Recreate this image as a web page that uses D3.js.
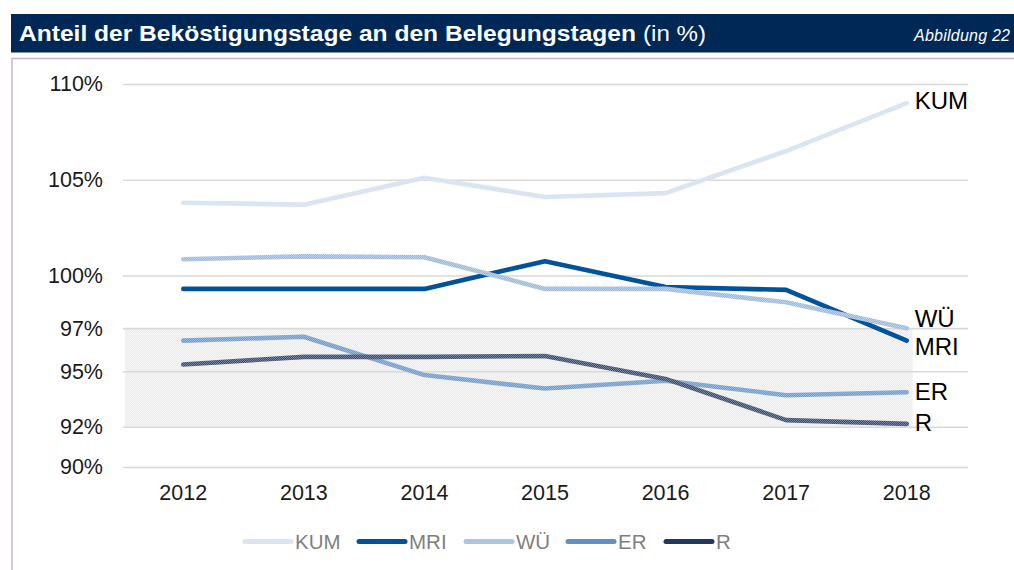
<!DOCTYPE html>
<html>
<head>
<meta charset="utf-8">
<script src="https://cdn.jsdelivr.net/npm/d3@7"></script>
<style>
  body { margin: 0; background: #fff; }
  svg { display: block; font-family: "Liberation Sans", Arial, sans-serif; }
</style>
</head>
<body>
<div id="chart"></div>
<script>
// data
const years = ['2012', '2013', '2014', '2015', '2016', '2017', '2018'];
const seriesNames = ['KUM', 'MRI', 'WÜ', 'ER', 'R'];
const kum = [103.8, 103.7, 105.1, 104.1, 104.3, 106.5, 109.0];
const mri = [99.3, 99.3, 99.3, 100.75, 99.4, 99.25, 96.6];
const wue = [100.85, 101.0, 100.95, 99.3, 99.3, 98.6, 97.25];
const er = [96.6, 96.8, 94.8, 94.1, 94.5, 93.75, 93.9];
const r = [95.35, 95.75, 95.75, 95.8, 94.6, 92.45, 92.25];
const yTicks = [90, 92.1, 95, 97.25, 100, 105, 110];
const yTickLabels = ['90%', '92%', '95%', '97%', '100%', '105%', '110%'];
const bandRange = [92.1, 97.25];

const seriesValues = [kum, mri, wue, er, r];

const width = 1014, height = 570;
const margin = { left: 123, right: 47, top: 84, bottom: 103 };

const svg = d3.select('#chart').append('svg')
  .attr('width', width)
  .attr('height', height);

const defs = svg.append('defs');

// little checker textures, the original lines look dithered
function checker(id, c1, c2) {
  const p = defs.append('pattern')
    .attr('id', id)
    .attr('patternUnits', 'userSpaceOnUse')
    .attr('width', 2).attr('height', 2);
  p.append('rect').attr('width', 2).attr('height', 2).attr('fill', c1);
  p.append('rect').attr('width', 1).attr('height', 1).attr('fill', c2);
  p.append('rect').attr('x', 1).attr('y', 1).attr('width', 1).attr('height', 1).attr('fill', c2);
}
checker('texWue', '#98b9de', '#bcd2ea');
checker('texEr', '#6f9ecf', '#96b8de');
checker('texR', '#3a4b70', '#7885a0');
checker('texBand', '#ececec', '#f5f5f5');

const lineStroke = {
  'KUM': '#dae5f1',
  'MRI': '#00539a',
  'WÜ': 'url(#texWue)',
  'ER': 'url(#texEr)',
  'R': 'url(#texR)'
};
const legendStroke = {
  'KUM': '#dae5f1',
  'MRI': '#00539a',
  'WÜ': 'url(#texWue)',
  'ER': '#5f91c8',
  'R': '#1f3763'
};
// small vertical nudges for end labels so they dont overlap
const labelNudge = { 'KUM': 6, 'MRI': 14, 'WÜ': -1, 'ER': 8, 'R': 7 };

// header bar
svg.append('rect')
  .attr('x', 11).attr('y', 14)
  .attr('width', width).attr('height', 38.5)
  .attr('fill', '#002856');

svg.append('text')
  .attr('x', 19).attr('y', 41)
  .attr('fill', '#fff')
  .attr('font-size', 22)
  .attr('font-weight', 'bold')
  .attr('textLength', 617)
  .attr('lengthAdjust', 'spacingAndGlyphs')
  .text('Anteil der Beköstigungstage an den Belegungstagen');

svg.append('text')
  .attr('x', 643).attr('y', 41)
  .attr('fill', '#fff')
  .attr('font-size', 22)
  .attr('textLength', 63)
  .attr('lengthAdjust', 'spacingAndGlyphs')
  .text('(in %)');

// in the original this one runs into the right edge, keep it just inside
svg.append('text')
  .attr('x', 914).attr('y', 41)
  .attr('fill', '#fff')
  .attr('font-size', 16)
  .attr('font-style', 'italic')
  .attr('textLength', 96)
  .attr('lengthAdjust', 'spacing')
  .text('Abbildung 22');

// frame lines
svg.append('path')
  .attr('d', `M12,${height} L12,58.5 L${width},58.5`)
  .attr('fill', 'none')
  .attr('stroke', '#c8b3c8')
  .attr('stroke-width', 1.5);

const x = d3.scaleBand()
  .domain(years)
  .range([margin.left, width - margin.right])
  .padding(0);

const y = d3.scaleLinear()
  .domain([90, 110])
  .range([height - margin.bottom, margin.top]);

const xc = d => x(d) + x.bandwidth() / 2;

// shaded band
svg.append('rect')
  .attr('x', margin.left + 2)
  .attr('y', y(bandRange[1]))
  .attr('width', xc(years[years.length - 1]) + 6 - margin.left - 2)
  .attr('height', y(bandRange[0]) - y(bandRange[1]))
  .attr('fill', 'url(#texBand)');

// y axis, gridlines + labels
const yAxis = svg.append('g')
  .attr('transform', `translate(${margin.left},0)`)
  .call(d3.axisLeft(y)
    .tickValues(yTicks)
    .tickSize(-(width - margin.left - margin.right + 1))
    .tickPadding(20)
    .tickFormat((d, i) => yTickLabels[i]));
yAxis.select('.domain').remove();
yAxis.selectAll('line').attr('stroke', '#d9d9d9').attr('stroke-width', 1.6);
yAxis.selectAll('text')
  .attr('font-size', 21.5)
  .attr('fill', '#1a1a1a')
  .attr('font-family', '"Liberation Sans", Arial, sans-serif');

// x axis labels
const xAxis = svg.append('g')
  .attr('transform', `translate(0,${y(90)})`)
  .call(d3.axisBottom(x).tickSize(0).tickPadding(18));
xAxis.select('.domain').remove();
xAxis.selectAll('text')
  .attr('font-size', 21.5)
  .attr('fill', '#1a1a1a')
  .attr('font-family', '"Liberation Sans", Arial, sans-serif');

// lines
const line = d3.line()
  .x((d, i) => xc(years[i]))
  .y(d => y(d));

seriesNames.forEach((name, k) => {
  svg.append('path')
    .datum(seriesValues[k])
    .attr('d', line)
    .attr('fill', 'none')
    .attr('stroke', lineStroke[name])
    .attr('stroke-width', 4.6)
    .attr('stroke-linecap', 'round')
    .attr('stroke-linejoin', 'round');
});

// end labels
seriesNames.forEach((name, k) => {
  const vals = seriesValues[k];
  svg.append('text')
    .attr('x', xc(years[years.length - 1]) + 8)
    .attr('y', y(vals[vals.length - 1]) + labelNudge[name])
    .attr('font-size', 24)
    .attr('fill', '#000')
    .text(name);
});

// legend
const legendX = [245, 359, 466, 568, 666];
const legend = svg.append('g');
seriesNames.forEach((name, k) => {
  const g = legend.append('g').attr('transform', `translate(${legendX[k]},541.5)`);
  g.append('line')
    .attr('x1', 0).attr('x2', 46)
    .attr('stroke', legendStroke[name])
    .attr('stroke-width', 5)
    .attr('stroke-linecap', 'round');
  g.append('text')
    .attr('x', 50).attr('y', 7.5)
    .attr('font-size', 20.5)
    .attr('fill', '#7f7f7f')
    .text(name);
});
</script>
</body>
</html>
